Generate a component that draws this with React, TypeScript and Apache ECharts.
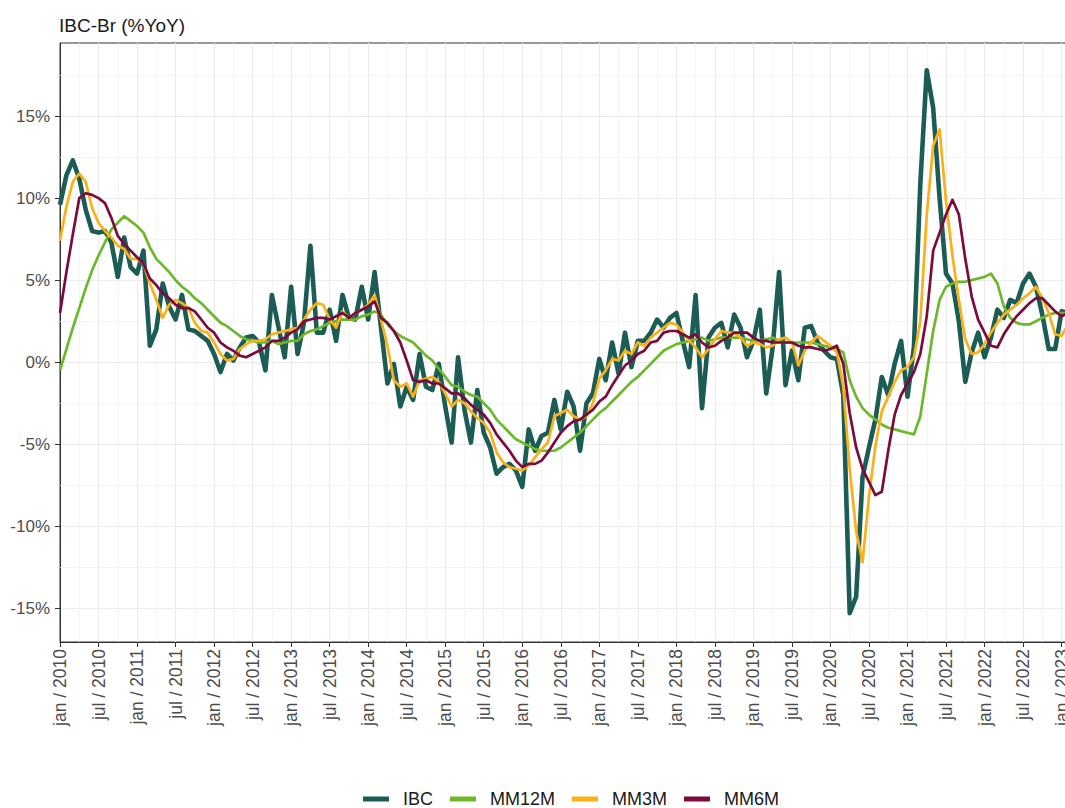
import React, { useEffect, useRef } from "react";
import * as echarts from "echarts";

const FONT = '"Liberation Sans", Arial, Helvetica, sans-serif';

// Monthly values, index 0 = jan/2010
const ibc = [
  9.6, 11.4, 12.3, 11.2, 9.3, 8.0, 7.9, 8.0, 7.3, 5.2, 7.6, 5.8,
  5.4, 6.8, 1.0, 2.0, 4.8, 3.4, 2.6, 4.1, 2.0, 1.9, 1.6, 1.3,
  0.5, -0.6, 0.5, 0.1, 0.9, 1.5, 1.6, 1.2, -0.5, 4.1, 2.2, 0.3,
  4.6, 0.5, 2.4, 7.1, 1.8, 1.8, 3.2, 1.3, 4.1, 2.7, 2.6, 4.6,
  2.6, 5.5, 2.1, -1.3, -0.1, -2.7, -1.5, -2.3, 0.5, -1.5, -1.7, -0.1,
  -2.7, -4.9, 0.3, -2.9, -4.9, -1.7, -4.3, -5.2, -6.8, -6.4, -6.2, -6.6,
  -7.6, -4.1, -5.4, -4.5, -4.3, -2.3, -4.1, -1.8, -2.7, -5.4, -2.5, -1.9,
  0.2, -1.1, 1.2, -0.7, 1.8, -0.3, 1.3, 1.3, 1.8, 2.6, 2.1, 2.7,
  3.0, 1.3, -0.3, 4.1, -2.8, 1.5, 2.1, 2.4, 0.9, 2.9, 2.1, 0.3,
  1.3, 3.2, -1.9, 0.9, 5.5, -1.4, 0.7, -1.1, 2.1, 2.2, 1.2, 0.7,
  0.3, 0.2, -2.0, -15.3, -14.3, -7.0, -5.2, -3.5, -0.9, -2.0, -0.1, 1.3,
  -2.1, 0.9, 10.9, 17.8, 15.5, 10.0, 5.4, 4.8, 2.5, -1.2, 0.6, 1.8,
  0.3, 1.5, 3.2, 2.7, 3.8, 3.6, 4.8, 5.4, 4.6, 2.9, 0.8, 0.8,
  3.1, 3.0,
];

const mm3m = [
  7.4, 9.5, 11.0, 11.5, 11.0, 9.4, 8.5, 8.0, 7.6, 7.1, 6.9, 6.3,
  6.3, 6.0, 4.8, 3.8, 2.7, 3.5, 3.8, 3.6, 3.3, 2.4, 1.9, 1.8,
  1.2, 0.5, 0.1, 0.2, 0.8, 1.1, 1.3, 1.3, 1.4, 1.7, 1.8, 1.9,
  2.0, 2.1, 2.6, 3.2, 3.6, 3.5, 2.6, 2.1, 3.1, 2.7, 3.0, 3.2,
  3.5, 4.1, 2.6, 1.0, -1.1, -1.5, -1.3, -2.1, -1.1, -1.0, -0.9, -1.2,
  -1.9, -2.7, -2.3, -2.5, -3.0, -3.4, -3.7, -4.3, -5.5, -6.1, -6.4, -6.5,
  -6.6, -6.3, -5.8, -5.3, -4.9, -3.3, -3.1, -2.9, -3.3, -3.5, -3.3, -2.5,
  -1.0, -0.5, 0.2, 0.1, 0.7, 0.5, 1.2, 1.0, 1.5, 1.8, 2.1, 2.4,
  2.3, 1.8, 1.3, 0.9, 0.3, 0.8, 1.4, 1.9, 1.8, 1.8, 1.5, 1.0,
  1.2, 1.1, 0.9, 1.0, 1.4, 1.5, 1.2, -0.2, 0.7, 1.2, 1.6, 1.3,
  1.0, 0.6, -1.5, -6.5, -10.3, -12.2, -8.2, -5.1, -3.0, -2.1, -1.2, -0.5,
  -0.3, 0.3, 2.5, 9.0, 13.2, 14.2, 9.8, 6.5, 3.8, 1.4, 0.5, 0.6,
  1.1, 1.8, 2.4, 2.9, 3.2, 3.5, 3.9, 4.2, 4.6, 3.9, 3.0, 1.7,
  1.6, 2.3,
];

const mm6m = [
  3.0, 5.5, 7.8, 10.0, 10.3, 10.2, 10.0, 9.7, 8.8, 7.7, 7.2, 6.8,
  6.4, 6.0, 5.1, 4.7, 4.2, 3.9, 3.5, 3.3, 3.3, 3.1, 2.6, 2.1,
  1.8, 1.2, 0.9, 0.7, 0.4, 0.3, 0.5, 0.7, 0.9, 1.3, 1.3, 1.5,
  1.8, 2.0, 2.5, 2.6, 2.7, 2.7, 2.6, 2.8, 3.0, 2.7, 3.0, 3.2,
  3.4, 3.7, 2.7, 2.4, 1.9, 1.2, 0.1, -1.1, -1.2, -1.1, -1.3, -1.3,
  -1.6, -1.9, -1.9, -2.2, -2.6, -2.9, -3.2, -3.7, -4.4, -4.9, -5.4, -6.0,
  -6.4, -6.2, -6.2, -6.0, -5.5, -4.9, -4.3, -3.9, -3.6, -3.5, -3.2, -2.9,
  -2.4, -2.1, -1.4, -0.8, -0.2, 0.1, 0.5, 0.7, 1.2, 1.3, 1.8, 1.9,
  1.9, 1.7, 1.5, 1.7, 1.2, 0.9, 1.0, 1.3, 1.5, 1.8, 1.8, 1.8,
  1.5, 1.3, 1.3, 1.2, 1.2, 1.2, 1.2, 1.0, 0.9, 0.9, 0.8, 0.7,
  0.8, 1.0, -0.1, -3.1, -5.2, -6.5, -7.3, -8.1, -7.9, -5.4, -3.2, -2.0,
  -1.3, -0.6, 0.5, 2.8, 6.8, 7.9, 9.0, 9.9, 9.0, 6.3, 4.0, 2.6,
  1.8, 1.0, 0.9, 1.7, 2.3, 2.8, 3.2, 3.6, 3.9, 3.9, 3.5, 3.1,
  2.8, 3.0,
];

const mm12m = [
  -0.5, 0.8, 2.1, 3.3, 4.5, 5.6, 6.5, 7.3, 8.1, 8.5, 8.9, 8.6,
  8.3, 7.9, 7.0, 6.3, 5.9, 5.5, 5.0, 4.6, 4.3, 3.9, 3.6, 3.2,
  2.8, 2.4, 2.2, 1.9, 1.6, 1.4, 1.3, 1.2, 1.2, 1.3, 1.1, 1.2,
  1.3, 1.3, 1.7, 1.9, 2.0, 2.2, 2.4, 2.5, 2.6, 2.6, 2.6, 2.8,
  2.9, 3.1, 2.9, 2.3, 1.9, 1.6, 1.4, 1.2, 0.8, 0.4, 0.1, -0.4,
  -0.9, -1.4, -1.5, -1.8, -2.0, -2.1, -2.5, -2.9, -3.5, -3.9, -4.3, -4.7,
  -4.9, -5.1, -5.3, -5.4, -5.4, -5.4, -5.2, -4.9, -4.6, -4.3, -3.9, -3.5,
  -3.1, -2.8, -2.4, -2.0, -1.6, -1.2, -0.9, -0.5, -0.1, 0.3, 0.7, 0.9,
  1.1, 1.2, 1.3, 1.4, 1.5, 1.3, 1.4, 1.5, 1.5, 1.5, 1.5, 1.4,
  1.3, 1.3, 1.4, 1.5, 1.3, 1.2, 1.2, 1.2, 1.2, 1.2, 1.1, 1.0,
  0.9, 0.8, 0.6, -1.1, -2.1, -2.8, -3.2, -3.5, -3.8, -4.0, -4.1, -4.2,
  -4.3, -4.4, -3.3, -0.7, 1.9, 3.8, 4.6, 4.8, 4.9, 4.9, 5.0, 5.1,
  5.2, 5.4, 4.8, 3.4, 2.7, 2.4, 2.3, 2.3, 2.5, 2.7, 2.9, 3.0,
  3.0, 3.0,
];

const seriesNames = ["IBC", "MM12M", "MM3M", "MM6M"];
const seriesValues = [ibc, mm12m, mm3m, mm6m];
const seriesColors = ["#1b5c55", "#6cb82a", "#fbb018", "#7b0b3c"];
const seriesWidths = [4.6, 2.7, 2.7, 2.7];

const xTickLabels = [
  "jan / 2010", "jul / 2010", "jan / 2011", "jul / 2011", "jan / 2012", "jul / 2012",
  "jan / 2013", "jul / 2013", "jan / 2014", "jul / 2014", "jan / 2015", "jul / 2015",
  "jan / 2016", "jul / 2016", "jan / 2017", "jul / 2017", "jan / 2018", "jul / 2018",
  "jan / 2019", "jul / 2019", "jan / 2020", "jul / 2020", "jan / 2021", "jul / 2021",
  "jan / 2022", "jul / 2022", "jan / 2023",
];
const yTicks = [-15, -10, -5, 0, 5, 10, 15];
const yMinor = [-12.5, -7.5, -2.5, 2.5, 7.5, 12.5, 17.5];

const Y_MIN = -17.06;
const Y_MAX = 19.46;
const X_MAX = 157;

export default function App() {
  const ref = useRef<HTMLDivElement>(null);

  useEffect(() => {
    if (!ref.current) return;
    const chart = echarts.init(ref.current, null, { renderer: "svg" });
    const xMinor = xTickLabels.map((_, i) => i * 6 + 3).filter((v) => v < X_MAX);

    const lineSeries = seriesNames.map((name, k) => ({
      name,
      type: "line",
      data: seriesValues[k].map((v, i) => [i, v]),
      showSymbol: false,
      symbol: "none",
      z: 3 + k,
      lineStyle: { width: seriesWidths[k], color: seriesColors[k], join: "round" },
      itemStyle: { color: seriesColors[k] },
      emphasis: { disabled: true },
    }));

    chart.setOption({
      animation: false,
      graphic: [
        {
          type: "text",
          style: {
            text: "IBC-Br (%YoY)",
            x: 59,
            y: 25,
            verticalAlign: "middle",
            align: "left",
            fontSize: 19,
            fontFamily: FONT,
            fill: "#1a1a1a",
          },
        },
      ],
      legend: {
        data: seriesNames,
        left: 363,
        top: 790,
        padding: 0,
        icon: "rect",
        itemWidth: 26,
        itemHeight: 5,
        itemGap: 17,
        textStyle: { fontSize: 18, color: "#1a1a1a", fontFamily: FONT, padding: [0, 0, 0, 9] },
        selectedMode: false,
      },
      grid: {
        left: 60,
        top: 43,
        right: 2,
        bottom: 166,
        show: true,
        borderColor: "#333333",
        borderWidth: 1,
        containLabel: false,
        outerBoundsMode: "none",
      },
      xAxis: {
        type: "value",
        min: 0,
        max: X_MAX,
        interval: 6,
        axisLine: { show: true, onZero: false, lineStyle: { color: "#333333", width: 1 } },
        axisTick: { show: true, length: 5, lineStyle: { color: "#333333", width: 1 } },
        axisLabel: {
          rotate: 90,
          margin: 7,
          fontSize: 17.5,
          color: "#4d4d4d",
          fontFamily: FONT,
          showMaxLabel: false,
          formatter: (v: number) => {
            const k = v / 6;
            return Number.isInteger(k) && xTickLabels[k] ? xTickLabels[k] : "";
          },
        },
        splitLine: { show: true, lineStyle: { color: "#ebebeb", width: 1.1 } },
      },
      yAxis: {
        type: "value",
        min: Y_MIN,
        max: Y_MAX,
        splitNumber: 7,
        axisLine: { show: true, onZero: false, lineStyle: { color: "#333333", width: 1 } },
        axisTick: {
          show: true,
          length: 5,
          lineStyle: { color: "#333333", width: 1 },
          customValues: yTicks,
        },
        axisLabel: {
          customValues: yTicks,
          margin: 10,
          fontSize: 17,
          color: "#4d4d4d",
          fontFamily: FONT,
          formatter: (v: number) => `${v}%`,
        },
        splitLine: { show: true, lineStyle: { color: "#ebebeb", width: 1.1 } },
      },
      series: [
        {
          name: "grid-minor",
          type: "line",
          data: [],
          silent: true,
          markLine: {
            silent: true,
            z: 1,
            symbol: ["none", "none"],
            label: { show: false },
            emphasis: { disabled: true },
            lineStyle: { color: "#f0f0f0", width: 0.7, type: "solid" },
            data: [
              ...xMinor.map((v) => ({ xAxis: v })),
              ...yMinor.filter((v) => v > Y_MIN && v < Y_MAX).map((v) => ({ yAxis: v })),
            ],
          },
        },
        ...lineSeries,
      ],
    });
    return () => chart.dispose();
  }, []);

  return (
    <div
      style={{
        position: "fixed",
        left: 0,
        top: 0,
        width: 1065,
        height: 808,
        overflow: "hidden",
        background: "#ffffff",
      }}
    >
      <div ref={ref} style={{ width: 1070, height: 808 }} />
    </div>
  );
}
